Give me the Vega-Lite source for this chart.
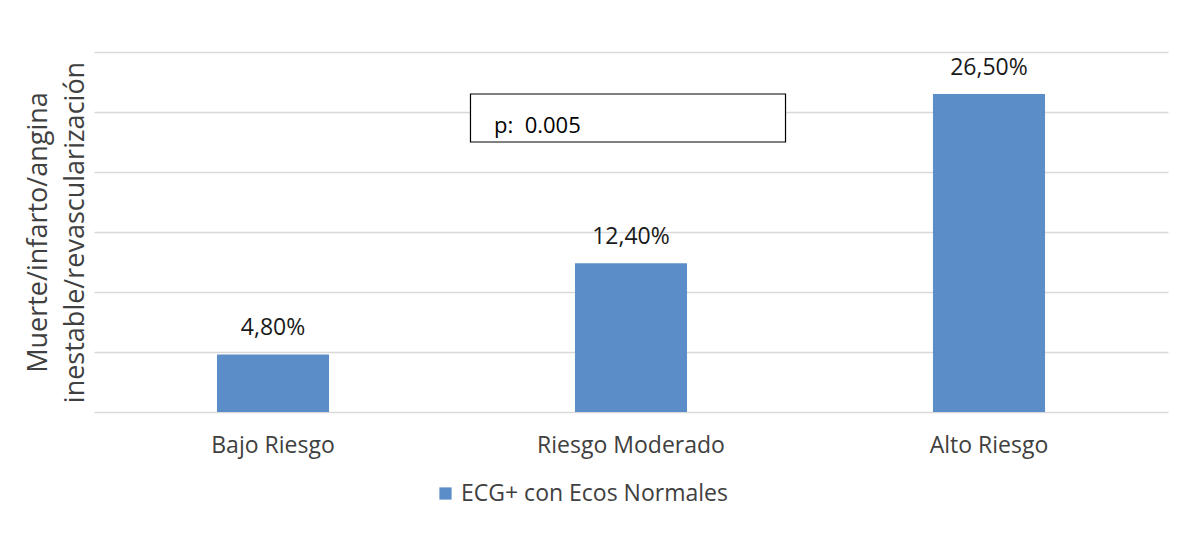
{
  "$schema": "https://vega.github.io/schema/vega-lite/v6.json",
  "width": 1074,
  "height": 360,
  "autosize": {"type": "none"},
  "padding": {"left": 94, "top": 52, "right": 32, "bottom": 126},
  "background": "white",
  "config": {
    "font": "Open Sans",
    "view": {"stroke": null}
  },
  "datasets": {
    "bars": [
      {"riesgo": "Bajo Riesgo", "valor": 4.8, "label": "4,80%", "serie": "ECG+ con Ecos Normales"},
      {"riesgo": "Riesgo Moderado", "valor": 12.4, "label": "12,40%", "serie": "ECG+ con Ecos Normales"},
      {"riesgo": "Alto Riesgo", "valor": 26.5, "label": "26,50%", "serie": "ECG+ con Ecos Normales"}
    ],
    "nota": [
      {"riesgo": "Riesgo Moderado", "y0": 22.5, "y1": 26.5, "ytext": 23.85, "texto": "p:\u00a0 0.005"}
    ]
  },
  "encoding": {
    "x": {
      "field": "riesgo",
      "type": "nominal",
      "sort": ["Bajo Riesgo", "Riesgo Moderado", "Alto Riesgo"],
      "scale": {"paddingInner": 0, "paddingOuter": 0},
      "axis": {
        "title": null,
        "labelAngle": 0,
        "labelFontSize": 23,
        "labelColor": "#404040",
        "labelPadding": 22,
        "labelLimit": 0,
        "ticks": false,
        "domain": false
      }
    }
  },
  "layer": [
    {
      "data": {"name": "bars"},
      "mark": {"type": "bar", "width": {"band": 0.313}},
      "encoding": {
        "y": {
          "field": "valor",
          "type": "quantitative",
          "scale": {"domain": [0, 30], "nice": false},
          "axis": {
            "values": [0, 5, 10, 15, 20, 25, 30],
            "labels": false,
            "ticks": false,
            "domain": false,
            "grid": true,
            "gridColor": "#d9d9d9",
            "gridWidth": 1.5,
            "title": ["Muerte/infarto/angina", "inestable/revascularización"],
            "titleFontSize": 27,
            "titleFontWeight": "normal",
            "titleColor": "#404040",
            "titleLineHeight": 37,
            "titleAngle": -90,
            "titleAlign": "center",
            "titleBaseline": "middle",
            "titleX": -56,
            "titleY": 180
          }
        },
        "color": {
          "field": "serie",
          "type": "nominal",
          "scale": {"range": ["#5b8ec8"]},
          "legend": {
            "title": null,
            "orient": "none",
            "legendX": 340,
            "legendY": 430,
            "symbolType": "square",
            "symbolSize": 150,
            "labelFontSize": 23,
            "labelColor": "#404040",
            "labelLimit": 0,
            "symbolStrokeWidth": 0
          }
        }
      }
    },
    {
      "data": {"name": "bars"},
      "mark": {"type": "text", "fontSize": 23, "color": "#1a1a1a", "baseline": "alphabetic", "dy": -19},
      "encoding": {
        "y": {"field": "valor", "type": "quantitative"},
        "text": {"field": "label"}
      }
    },
    {
      "data": {"name": "nota"},
      "mark": {"type": "bar", "width": {"band": 0.88}, "fill": "white", "stroke": "black", "strokeWidth": 1.2, "xOffset": -3},
      "encoding": {
        "y": {"field": "y0", "type": "quantitative"},
        "y2": {"field": "y1"}
      }
    },
    {
      "data": {"name": "nota"},
      "mark": {"type": "text", "fontSize": 22, "color": "black", "align": "left", "baseline": "middle", "dx": -137},
      "encoding": {
        "y": {"field": "ytext", "type": "quantitative"},
        "text": {"field": "texto"}
      }
    }
  ]
}
